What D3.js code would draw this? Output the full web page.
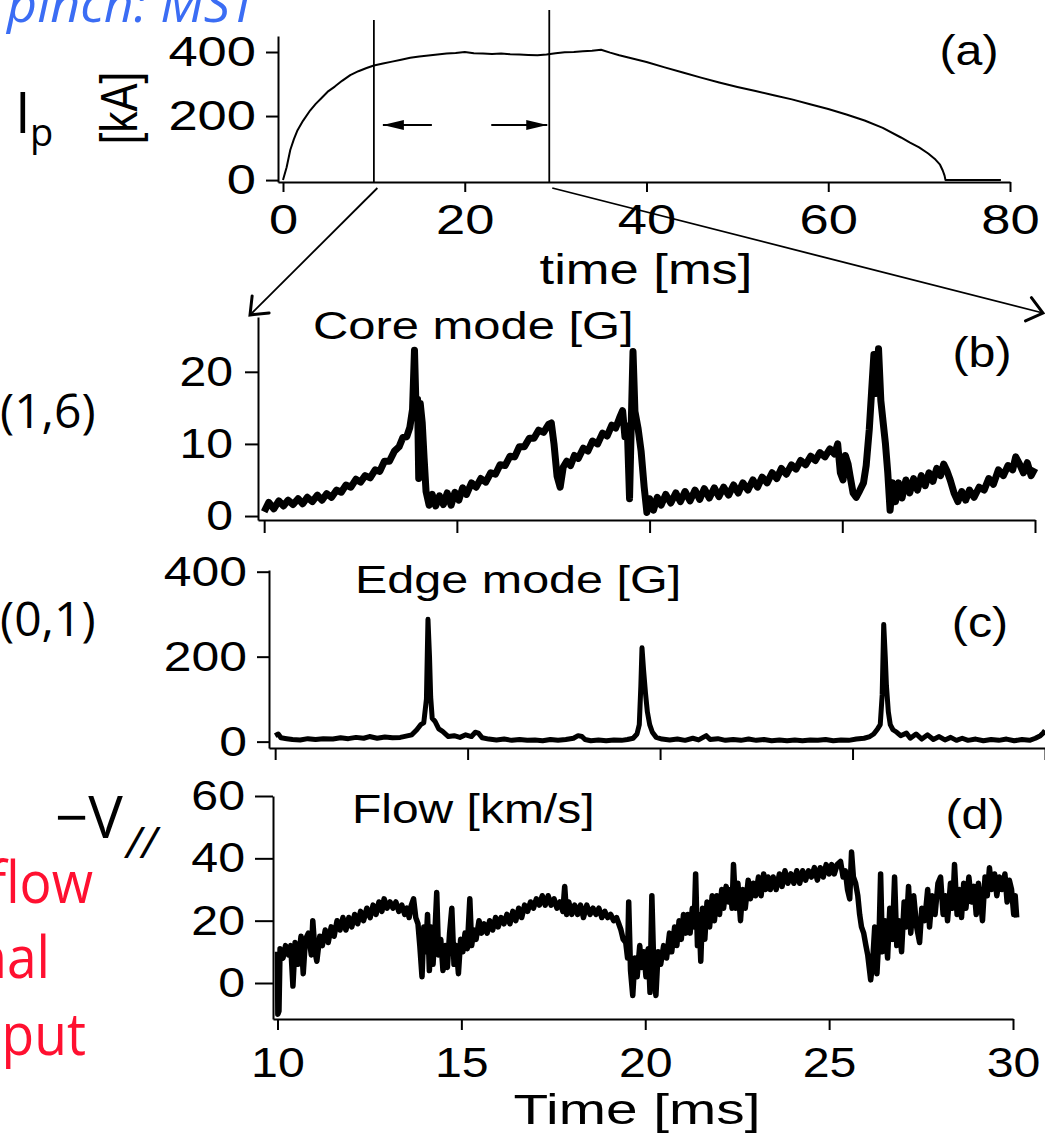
<!DOCTYPE html>
<html>
<head>
<meta charset="utf-8">
<script src="https://cdn.jsdelivr.net/npm/d3@7"></script>
<style>
  body { margin: 0; background: #fff; }
  svg { display: block; }
  text { font-family: "Liberation Sans", Arial, Helvetica, sans-serif; fill: #000; }
  text.ui { font-family: "Open Sans", "Noto Sans", sans-serif; }
</style>
</head>
<body>
<svg id="chart" width="1045" height="1136"></svg>
<script>
// ---- data ----
// (a) plasma current [kA] vs time [ms]
const ipCurve = [[0,0],[0.4,40],[0.8,94],[1.2,128],[1.6,156],[2.2,185],[3,218],[3.6,238],[4.3,258],[5,278],
  [5.7,292],[6.5,310],[7.4,328],[8.3,340],[9.2,350],[10,358],[11,364],[12,370],[13,376],[14,382],[15,386],
  [16,389],[17,392],[18,395],[19,397],[20,400],[21,396],[22,395],[23,394],[24,395],[25,393],[26,392],[27,391],
  [28,390],[29,392],[30,396],[31,399],[32,400],[33,402],[34,404],[35,407],[36,398],[37,390],[38,383],[39,376],
  [40,369],[42,352],[44,336],[46,320],[48,305],[50,291],[52,278],[54,265],[56,252],[58,237],[60,222],[62,205],
  [64,186],[66,163],[68,133],[69,117],[70,102],[71,83],[71.8,64],[72.3,48],[72.6,30],[72.8,14],[72.9,0],[76,0],[79,0]];
const zoomWindow = [10, 29.3];

// (b) core (1,6) mode amplitude [G]
const coreMode = [[10.0,0.6],[10.12,1.9],[10.25,1.0],[10.38,2.1],[10.5,1.4],[10.62,2.2],[10.75,1.6],[10.88,2.4],
  [11.0,1.7],[11.12,2.6],[11.25,2.0],[11.38,2.9],[11.5,2.2],[11.62,3.1],[11.75,2.6],[11.88,3.6],[12.0,3.3],
  [12.12,4.3],[12.25,4.0],[12.38,5.1],[12.5,4.7],[12.62,5.6],[12.75,5.3],[12.88,6.4],[13.0,6.2],[13.12,7.6],
  [13.25,7.6],[13.38,9.0],[13.5,9.6],[13.6,10.9],[13.7,11.0],[13.78,12.3],[13.85,14.8],[13.9,23.0],[13.94,15.0],
  [13.98,16.2],[14.01,5.2],[14.05,15.6],[14.1,13.0],[14.15,8.0],[14.2,3.4],[14.28,1.5],[14.36,3.0],[14.45,1.4],
  [14.55,2.8],[14.65,1.6],[14.75,3.2],[14.85,1.5],[14.95,3.3],[15.05,2.2],[15.15,3.9],[15.25,3.0],[15.38,4.6],
  [15.5,4.0],[15.62,5.2],[15.75,4.7],[15.88,6.0],[16.0,5.8],[16.12,7.1],[16.25,7.0],[16.38,8.3],[16.5,8.2],
  [16.62,9.6],[16.75,9.6],[16.88,10.8],[17.0,10.8],[17.12,11.9],[17.25,11.6],[17.38,12.7],[17.45,12.9],
  [17.52,10.0],[17.6,5.5],[17.68,4.0],[17.76,6.8],[17.85,7.6],[17.95,7.0],[18.05,8.4],[18.15,8.0],[18.28,9.4],
  [18.4,9.0],[18.52,10.4],[18.65,10.0],[18.78,11.5],[18.9,11.1],[19.02,12.6],[19.12,12.2],[19.22,13.6],
  [19.3,14.6],[19.36,11.0],[19.42,12.5],[19.48,2.4],[19.53,14.0],[19.57,22.8],[19.62,14.5],[19.7,12.2],
  [19.78,9.0],[19.86,4.0],[19.93,0.5],[20.0,2.4],[20.1,0.8],[20.2,2.6],[20.3,1.5],[20.42,3.0],[20.55,1.8],
  [20.68,3.2],[20.8,2.0],[20.92,3.4],[21.05,2.1],[21.18,3.6],[21.3,2.3],[21.42,3.8],[21.55,2.5],[21.68,3.9],
  [21.8,2.7],[21.92,4.0],[22.05,2.9],[22.18,4.3],[22.3,3.2],[22.42,4.6],[22.55,3.6],[22.68,5.0],[22.8,4.0],
  [22.92,5.4],[23.05,4.6],[23.18,6.0],[23.3,5.2],[23.42,6.6],[23.55,5.8],[23.68,7.1],[23.8,6.5],[23.92,7.7],
  [24.05,7.1],[24.18,8.3],[24.3,7.7],[24.42,8.8],[24.55,8.2],[24.68,9.3],[24.8,8.6],[24.88,10.0],[24.95,6.0],
  [25.02,5.0],[25.08,8.4],[25.15,7.2],[25.2,5.6],[25.28,3.2],[25.36,2.6],[25.45,3.5],[25.55,4.6],[25.62,7.0],
  [25.7,12.0],[25.76,17.2],[25.82,22.4],[25.88,17.0],[25.94,23.2],[26.0,16.0],[26.06,13.0],[26.12,10.0],
  [26.18,6.0],[26.24,0.8],[26.3,4.6],[26.38,2.0],[26.46,4.6],[26.55,2.5],[26.65,5.0],[26.75,3.2],[26.85,5.2],
  [26.95,3.6],[27.05,5.6],[27.15,4.2],[27.25,6.0],[27.35,4.8],[27.45,6.6],[27.55,5.6],[27.63,7.2],[27.72,6.2],
  [27.8,5.0],[27.9,3.2],[28.0,2.0],[28.1,3.4],[28.2,2.2],[28.3,3.6],[28.42,2.6],[28.55,4.0],[28.68,3.6],
  [28.8,5.2],[28.92,4.4],[29.05,6.4],[29.18,5.6],[29.3,7.0],[29.42,6.4],[29.5,8.2],[29.6,7.2],[29.7,6.0],
  [29.8,7.4],[29.9,5.6],[30.0,6.6]];

// (c) edge (0,1) mode amplitude [G]
const edgeMode = [[10.0,14],[10.08,18],[10.15,9],[10.3,7],[10.45,5],[10.65,4],[10.85,7],[11.05,5],[11.25,7],
  [11.5,6],[11.7,9],[11.9,7],[12.1,10],[12.3,8],[12.45,12],[12.65,8],[12.85,11],[13.05,9],[13.25,10],[13.4,13],
  [13.55,16],[13.68,28],[13.78,40],[13.86,44],[13.93,100],[13.97,288],[14.01,200],[14.04,105],[14.08,55],
  [14.15,48],[14.25,30],[14.35,24],[14.5,12],[14.65,14],[14.8,10],[14.95,16],[15.1,12],[15.2,22],[15.28,20],
  [15.38,9],[15.55,6],[15.75,4],[15.95,6],[16.15,3],[16.35,5],[16.55,3],[16.75,4],[16.95,2],[17.15,5],[17.35,3],
  [17.55,5],[17.75,8],[17.87,14],[17.97,12],[18.05,5],[18.2,2],[18.4,4],[18.6,2],[18.8,4],[19.0,3],[19.15,5],
  [19.3,8],[19.4,18],[19.46,40],[19.5,130],[19.53,221],[19.57,170],[19.62,115],[19.67,70],[19.73,40],[19.8,22],
  [19.9,10],[20.05,6],[20.25,4],[20.45,6],[20.65,3],[20.85,8],[21.0,4],[21.2,14],[21.3,5],[21.5,7],[21.7,3],
  [21.9,5],[22.1,3],[22.3,6],[22.5,3],[22.7,5],[22.9,2],[23.1,4],[23.3,2],[23.5,4],[23.7,2],[23.9,4],[24.1,3],
  [24.3,5],[24.5,2],[24.7,4],[24.9,3],[25.1,6],[25.3,8],[25.45,12],[25.55,18],[25.65,30],[25.72,40],[25.77,110],
  [25.81,276],[25.85,200],[25.88,132],[25.93,70],[25.98,40],[26.05,28],[26.15,22],[26.25,14],[26.4,20],[26.5,8],
  [26.65,18],[26.8,6],[26.95,16],[27.1,5],[27.25,12],[27.4,4],[27.55,10],[27.7,3],[27.85,8],[28.0,3],[28.2,6],
  [28.4,2],[28.6,5],[28.8,3],[29.0,6],[29.2,2],[29.4,5],[29.6,3],[29.75,8],[29.88,14],[29.95,20],[30.0,26]];

// (d) parallel flow [km/s]
const flowVel = [[10.0,10],[10.01,-10],[10.04,-9],[10.07,11],[10.15,8],[10.22,12],[10.3,9],[10.36,12],[10.42,-1],
  [10.48,13],[10.56,6],[10.64,15],[10.7,3],[10.76,14],[10.84,16],[10.92,9],[10.96,20],[11.02,10],[11.07,7],
  [11.15,15],[11.22,12],[11.3,17],[11.38,13],[11.46,18],[11.54,15],[11.62,20],[11.7,17],[11.78,21],[11.86,17],
  [11.94,21],[12.02,18],[12.1,22],[12.18,19],[12.26,23],[12.34,20],[12.43,24],[12.52,21],[12.6,25],[12.68,22],
  [12.76,26],[12.84,23],[12.9,27],[12.98,24],[13.06,26],[13.14,24],[13.22,26],[13.3,23],[13.38,25],[13.46,22],
  [13.52,24],[13.58,21],[13.64,25],[13.7,27],[13.76,21],[13.82,19],[13.87,12],[13.93,2],[13.98,18],[14.03,10],
  [14.08,22],[14.13,4],[14.18,18],[14.23,6],[14.28,16],[14.33,29],[14.38,9],[14.44,14],[14.5,4],[14.56,12],
  [14.62,5],[14.68,16],[14.74,24],[14.8,6],[14.86,12],[14.92,3],[14.98,14],[15.04,10],[15.1,16],[15.16,11],
  [15.23,27],[15.28,12],[15.34,17],[15.4,14],[15.48,20],[15.55,16],[15.62,19],[15.7,16],[15.77,20],[15.85,17],
  [15.93,21],[16.0,18],[16.08,21],[16.16,19],[16.24,22],[16.32,19],[16.4,23],[16.48,20],[16.56,24],[16.64,21],
  [16.72,25],[16.8,23],[16.88,26],[16.96,24],[17.04,27],[17.12,25],[17.2,28],[17.28,25],[17.36,28],[17.44,25],
  [17.52,27],[17.6,24],[17.68,26],[17.76,23],[17.81,31],[17.86,22],[17.92,26],[18.0,22],[18.08,25],[18.16,22],
  [18.24,25],[18.32,21],[18.41,25],[18.5,22],[18.58,24],[18.66,22],[18.74,24],[18.82,21],[18.9,23],[18.98,21],
  [19.06,22],[19.14,20],[19.22,21],[19.28,19],[19.34,17],[19.4,14],[19.47,13],[19.52,8],[19.55,26],[19.6,4],
  [19.66,-4],[19.72,8],[19.78,2],[19.85,12],[19.9,5],[19.96,10],[20.02,2],[20.08,11],[20.13,-3],[20.18,28],
  [20.23,6],[20.29,-4],[20.35,10],[20.42,6],[20.5,12],[20.58,8],[20.66,16],[20.72,10],[20.8,18],[20.86,12],
  [20.92,20],[20.98,14],[21.04,22],[21.1,16],[21.16,22],[21.22,16],[21.28,24],[21.33,18],[21.37,35],[21.42,12],
  [21.46,22],[21.51,7],[21.56,24],[21.62,14],[21.68,26],[21.75,18],[21.82,28],[21.88,20],[21.95,28],[22.02,22],
  [22.08,30],[22.13,24],[22.2,31],[22.26,26],[22.32,30],[22.36,24],[22.4,38],[22.46,24],[22.52,32],[22.59,20],
  [22.65,30],[22.72,24],[22.8,33],[22.86,27],[22.94,32],[23.0,28],[23.08,34],[23.15,28],[23.22,35],[23.27,30],
  [23.34,34],[23.4,30],[23.48,34],[23.56,30],[23.65,35],[23.72,31],[23.8,36],[23.88,32],[23.96,35],[24.04,32],
  [24.12,36],[24.2,32],[24.28,36],[24.36,33],[24.44,36],[24.52,34],[24.6,37],[24.68,33],[24.76,37],[24.84,34],
  [24.92,38],[25.0,35],[25.07,38],[25.14,35],[25.22,38],[25.31,39],[25.38,34],[25.44,36],[25.5,30],[25.56,27],
  [25.61,42],[25.66,34],[25.72,32],[25.78,28],[25.83,22],[25.88,18],[25.94,16],[26.0,12],[26.05,9],[26.1,4],
  [26.13,1],[26.18,6],[26.24,18],[26.3,3],[26.36,16],[26.4,35],[26.45,10],[26.52,20],[26.59,8],[26.65,24],
  [26.72,14],[26.78,34],[26.84,12],[26.9,20],[26.97,10],[27.04,26],[27.1,18],[27.16,31],[27.22,16],[27.3,28],
  [27.38,18],[27.46,13],[27.52,24],[27.6,20],[27.68,30],[27.73,18],[27.8,28],[27.88,22],[27.96,32],[28.03,34],
  [28.1,22],[28.16,28],[28.22,20],[28.3,32],[28.36,24],[28.41,38],[28.48,22],[28.54,30],[28.6,21],[28.66,32],
  [28.72,24],[28.8,34],[28.87,26],[28.94,31],[29.0,22],[29.06,32],[29.12,26],[29.17,20],[29.24,34],[29.3,28],
  [29.36,37],[29.42,30],[29.5,35],[29.56,28],[29.63,34],[29.7,30],[29.78,35],[29.84,26],[29.9,33],[29.96,30],
  [30.02,22],[30.06,28],[30.1,21]];

const ipTicksY = [0, 200, 400];
const ipTicksX = [0, 20, 40, 60, 80];
const coreTicksY = [0, 10, 20];
const edgeTicksY = [0, 200, 400];
const flowTicksY = [0, 20, 40, 60];
const zoomTicksX = [10, 15, 20, 25, 30];

const svg = d3.select('#chart');

// text with a horizontal stretch (the source figure is stretched sideways)
function label(txt, x, y, size, o = {}) {
  const t = svg.append('text')
    .attr('transform', `translate(${x},${y}) scale(${o.sx || 1},1)` + (o.rot ? ` rotate(${o.rot})` : ''))
    .attr('font-size', size)
    .attr('text-anchor', o.anchor || 'start')
    .text(txt);
  if (o.cls) t.attr('class', o.cls);
  if (o.fill) t.style('fill', o.fill);
  if (o.italic) t.attr('font-style', 'italic');
  return t;
}

function panel(p) {
  const x = d3.scaleLinear().domain(p.xd).range([p.left, p.right]);
  const y = d3.scaleLinear().domain(p.yd).range([p.bottom, p.top]);
  const g = svg.append('g');

  const ya = g.append('g')
    .attr('transform', `translate(${p.left},0)`)
    .call(d3.axisLeft(y).tickValues(p.yTicks).tickSize(p.yTick).tickSizeOuter(0).tickPadding(p.yPad));
  const xa = g.append('g')
    .attr('transform', `translate(0,${p.bottom})`)
    .call(d3.axisBottom(x).tickValues(p.xTicks).tickSize(p.xTick).tickSizeOuter(0).tickPadding(p.xPad)
      .tickFormat(p.xLabels ? d3.format('d') : () => ''));

  [ya, xa].forEach(a => {
    a.attr('font-family', null).attr('font-size', null);
    a.selectAll('path, line').attr('stroke-width', p.axisW);
  });
  ya.selectAll('text')
    .attr('font-size', p.tickFont)
    .attr('x', -(p.yTick + p.yPad) / p.tickSx)
    .attr('transform', `scale(${p.tickSx},1)`);
  xa.selectAll('text')
    .attr('font-size', p.tickFont)
    .attr('transform', `scale(${p.tickSx},1)`);

  g.append('path')
    .datum(p.data)
    .attr('fill', 'none')
    .attr('stroke', '#000')
    .attr('stroke-width', p.lineW)
    .attr('stroke-linejoin', 'round')
    .attr('d', d3.line().x(d => x(d[0])).y(d => y(d[1])));

  return { x, y };
}

// arrow heads
const defs = svg.append('defs');
defs.append('marker').attr('id', 'solid')
  .attr('viewBox', '-22 -6 24 12').attr('refX', 0).attr('refY', 0)
  .attr('markerWidth', 24).attr('markerHeight', 12).attr('markerUnits', 'userSpaceOnUse')
  .attr('orient', 'auto')
  .append('path').attr('d', 'M0,0L-21,-5L-21,5Z').attr('fill', '#000');
defs.append('marker').attr('id', 'open')
  .attr('viewBox', '-20 -16 24 32').attr('refX', 0).attr('refY', 0)
  .attr('markerWidth', 24).attr('markerHeight', 32).attr('markerUnits', 'userSpaceOnUse')
  .attr('orient', 'auto')
  .append('path').attr('d', 'M-15,-12L0,0L-15,12').attr('fill', 'none')
  .attr('stroke', '#000').attr('stroke-width', 3).attr('stroke-linecap', 'round');

// (a)
const A = panel({
  data: ipCurve, xd: [-0.55, 80], yd: [-6, 450],
  left: 278, right: 1010, top: 36, bottom: 182,
  yTicks: ipTicksY, xTicks: ipTicksX, xLabels: true,
  yTick: 12, yPad: 10, xTick: 10, xPad: 12,
  tickFont: 42, tickSx: 1.25, axisW: 2, lineW: 2
});
// (b)
const B = panel({
  data: coreMode, xd: [9.84, 30], yd: [-0.55, 27.6],
  left: 258, right: 1035, top: 317, bottom: 520,
  yTicks: coreTicksY, xTicks: zoomTicksX, xLabels: false,
  yTick: 13, yPad: 12, xTick: 13, xPad: 0,
  tickFont: 43, tickSx: 1.12, axisW: 2, lineW: 7
});
// (c)
const C = panel({
  data: edgeMode, xd: [9.84, 30], yd: [-15, 404],
  left: 269, right: 1045, top: 570, bottom: 748,
  yTicks: edgeTicksY, xTicks: zoomTicksX, xLabels: false,
  yTick: 12, yPad: 10, xTick: 12, xPad: 0,
  tickFont: 43, tickSx: 1.16, axisW: 2, lineW: 5
});
// (d)
const D = panel({
  data: flowVel, xd: [9.878, 30], yd: [-11.55, 60],
  left: 273, right: 1013, top: 796, bottom: 1019,
  yTicks: flowTicksY, xTicks: zoomTicksX, xLabels: true,
  yTick: 18, yPad: 10, xTick: 11, xPad: 17,
  tickFont: 42, tickSx: 1.15, axisW: 2, lineW: 5.5
});

// zoom window markers in (a)
const [w0, w1] = zoomWindow;
svg.append('line').attr('x1', A.x(w0)).attr('x2', A.x(w0)).attr('y1', 20).attr('y2', 182)
  .attr('stroke', '#000').attr('stroke-width', 1.8);
svg.append('line').attr('x1', A.x(w1)).attr('x2', A.x(w1)).attr('y1', 10).attr('y2', 182)
  .attr('stroke', '#000').attr('stroke-width', 1.8);
svg.append('line').attr('x1', A.x(w0) + 58).attr('x2', A.x(w0) + 9).attr('y1', 125).attr('y2', 125)
  .attr('stroke', '#000').attr('stroke-width', 1.8).attr('marker-end', 'url(#solid)');
svg.append('line').attr('x1', A.x(w1) - 58).attr('x2', A.x(w1) - 2).attr('y1', 125).attr('y2', 125)
  .attr('stroke', '#000').attr('stroke-width', 1.8).attr('marker-end', 'url(#solid)');
// lines from the window to panel (b)
svg.append('line').attr('x1', A.x(w0) + 3.5).attr('y1', 188).attr('x2', B.x.range()[0] - 8).attr('y2', B.y.range()[1] - 2)
  .attr('stroke', '#000').attr('stroke-width', 1.8).attr('marker-end', 'url(#open)');
svg.append('line').attr('x1', A.x(w1) + 3).attr('y1', 188).attr('x2', B.x.range()[1] + 8).attr('y2', B.y.range()[1] - 4)
  .attr('stroke', '#000').attr('stroke-width', 1.8).attr('marker-end', 'url(#open)');

// axis titles and panel text
label('time [ms]', 646, 284, 42, { anchor: 'middle', sx: 1.25 });
label('[kA]', 137, 108, 42, { anchor: 'middle', sx: 1.25, rot: -90 });
label('(a)', 969, 65, 42, { anchor: 'middle', sx: 1.15 });
label('Core mode [G]', 313, 339, 38.5, { sx: 1.27 });
label('(b)', 982, 367, 42, { anchor: 'middle', sx: 1.15 });
label('Edge mode [G]', 355, 593, 38.5, { sx: 1.26 });
label('(c)', 980, 637, 42, { anchor: 'middle', sx: 1.15 });
label('Flow [km/s]', 352, 823, 41, { sx: 1.17 });
label('(d)', 975, 829, 42, { anchor: 'middle', sx: 1.15 });
label('Time [ms]', 637, 1124, 43, { anchor: 'middle', sx: 1.32 });

// left-hand slide labels
label('I', 15, 133, 56, { cls: 'ui' });
label('p', 30, 146, 38, { cls: 'ui' });
label('(1,6)', 0, 428, 48, { cls: 'ui' });
label('(0,1)', 0, 636, 48, { cls: 'ui' });
label('\u2212V', 55, 838, 58, { cls: 'ui' });
label('//', 126, 858, 44, { cls: 'ui', italic: true });
label('pinch: MST', 256, 22, 52, { cls: 'ui', anchor: 'end', italic: true, fill: '#3b6df4' });
label('flow', 93, 903, 58, { cls: 'ui', anchor: 'end', sx: 0.92, fill: '#ff1030' });
label('nal', 50, 978, 58, { cls: 'ui', anchor: 'end', sx: 0.92, fill: '#ff1030' });
label('put', 86, 1055, 58, { cls: 'ui', anchor: 'end', sx: 0.92, fill: '#ff1030' });
</script>
</body>
</html>
